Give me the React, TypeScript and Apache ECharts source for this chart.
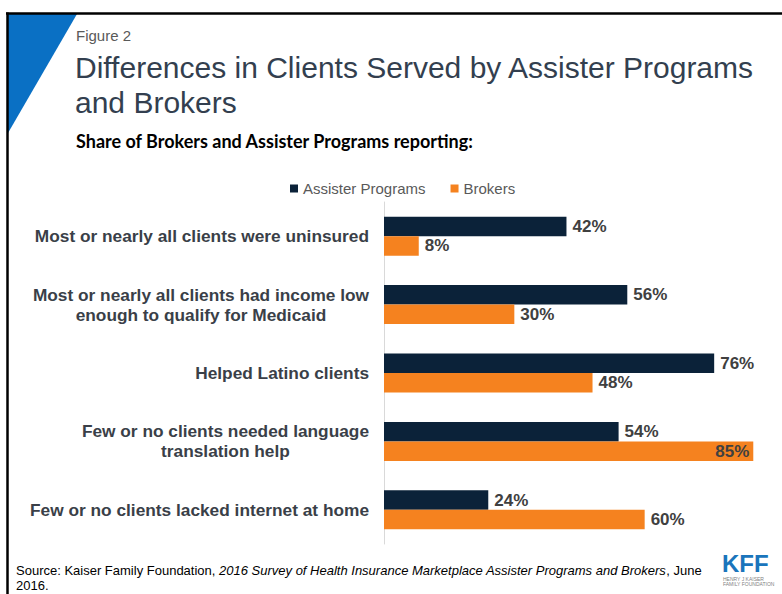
import React, { useEffect, useRef } from "react";
import * as echarts from "echarts";

const categories: string[] = [
  "Most or nearly all clients were uninsured",
  "Most or nearly all clients had income low\nenough to qualify for Medicaid",
  "Helped Latino clients",
  "Few or no clients needed language\ntranslation help",
  "Few or no clients lacked internet at home",
];
const assisterValues: number[] = [42, 56, 76, 54, 24];
const brokerValues: number[] = [8, 30, 48, 85, 60];
const seriesNames: string[] = ["Assister Programs", "Brokers"];

const FONT = "'Liberation Sans', Arial, sans-serif";
const NAVY = "#0b2239";
const ORANGE = "#f5821f";

export default function App() {
  const ref = useRef<HTMLDivElement>(null);
  useEffect(() => {
    if (!ref.current) return;
    const chart = echarts.init(ref.current, null, { renderer: "svg" });
    const valueLabel = {
      show: true,
      position: "right" as const,
      distance: 6,
      formatter: "{c}%",
      fontSize: 17,
      fontWeight: "bold" as const,
      color: "#404040",
      fontFamily: FONT,
    };
    chart.setOption({
      animation: false,
      backgroundColor: "#ffffff",
      textStyle: { fontFamily: FONT },
      legend: {
        data: seriesNames,
        left: 285,
        top: 176,
        icon: "rect",
        itemWidth: 8,
        itemHeight: 8,
        itemGap: 25,
        textStyle: { fontSize: 15, color: "#595959", fontFamily: FONT },
      },
      grid: { left: 384, top: 202, width: 391, height: 342, containLabel: false },
      xAxis: {
        type: "value",
        min: 0,
        max: 90,
        show: false,
        splitLine: { show: false },
      },
      yAxis: {
        type: "category",
        inverse: true,
        data: categories,
        axisLine: { show: true, lineStyle: { color: "#d9d9d9", width: 1 } },
        axisTick: { show: false },
        axisLabel: {
          margin: 15,
          formatter: (v: string) =>
            v
              .split("\n")
              .map((l) => `{c|${l}}`)
              .join("\n"),
          rich: {
            c: {
              align: "center",
              fontSize: 17.3,
              fontWeight: "bold",
              color: "#3a3f48",
              fontFamily: FONT,
              lineHeight: 20,
            },
          },
        },
      },
      series: [
        {
          name: seriesNames[0],
          type: "bar",
          data: assisterValues,
          barWidth: 19.5,
          barGap: "0%",
          itemStyle: { color: NAVY },
          label: valueLabel,
        },
        {
          name: seriesNames[1],
          type: "bar",
          data: brokerValues.map((v) =>
            v >= 80
              ? { value: v, label: { position: "insideRight", distance: 4 } }
              : v
          ),
          barWidth: 19.5,
          barGap: "0%",
          itemStyle: { color: ORANGE },
          label: valueLabel,
        },
      ],
      graphic: [
        {
          type: "polygon",
          shape: { points: [[8, 14], [77, 14], [8, 133]] },
          style: { fill: "#0a70c4" },
          silent: true,
        },
        {
          type: "line",
          shape: { x1: 6, y1: 13.5, x2: 782, y2: 13.5 },
          style: { stroke: "#000", lineWidth: 2.5 },
          silent: true,
        },
        {
          type: "line",
          shape: { x1: 7.5, y1: 12.5, x2: 7.5, y2: 594 },
          style: { stroke: "#000", lineWidth: 2.5 },
          silent: true,
        },
        {
          type: "text",
          left: 76,
          top: 28,
          style: { text: "Figure 2", fontSize: 15, fill: "#595959", fontFamily: FONT },
        },
        {
          type: "text",
          left: 75,
          top: 50,
          style: {
            text: "Differences in Clients Served by Assister Programs\nand Brokers",
            fontSize: 30,
            lineHeight: 35,
            fill: "#333f4f",
            fontFamily: FONT,
          },
        },
        {
          type: "text",
          left: 76,
          top: 132,
          style: {
            text: "Share of Brokers and Assister Programs reporting:",
            fontSize: 18,
            fontWeight: "bold",
            fill: "#000000",
            fontFamily: "Lato, 'Open Sans', sans-serif",
          },
        },
        {
          type: "text",
          left: 16,
          top: 564,
          style: {
            text:
              "{n|Source: Kaiser Family Foundation, }{i|2016 Survey of Health Insurance Marketplace Assister Programs and Brokers}{n|, June}\n{n|2016.}",
            rich: {
              n: { fontSize: 13, fill: "#000", fontFamily: FONT, lineHeight: 15 },
              i: { fontSize: 13, fill: "#000", fontFamily: FONT, fontStyle: "italic", lineHeight: 15 },
            },
          },
        },
        {
          type: "text",
          left: 722,
          top: 551,
          style: {
            text: "KFF",
            fontSize: 24,
            lineHeight: 22,
            fontWeight: "bold",
            fill: "#1a75bc",
            fontFamily: FONT,
          },
        },
        {
          type: "text",
          left: 723,
          top: 576,
          style: {
            text: "HENRY J KAISER\nFAMILY FOUNDATION",
            fontSize: 5,
            lineHeight: 5,
            fill: "#7f7f7f",
            fontFamily: FONT,
          },
        },
      ],
    });
    return () => chart.dispose();
  }, []);
  return (
    <div
      ref={ref}
      style={{ position: "fixed", left: 0, top: 0, width: 782, height: 594 }}
    />
  );
}
